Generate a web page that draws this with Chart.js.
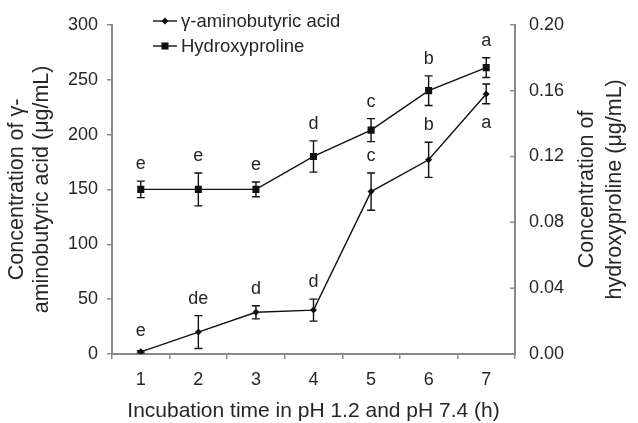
<!DOCTYPE html>
<html>
<head>
<meta charset="utf-8">
<script src="https://cdn.jsdelivr.net/npm/chart.js@4/dist/chart.umd.min.js"></script>
<style>
  html, body { margin: 0; padding: 0; background: #fff; }
  #wrap { width: 638px; height: 423px; position: relative; }
</style>
</head>
<body>
<div id="wrap"><canvas id="chart"></canvas></div>
<script>
// incubation hours
const categories = ['1', '2', '3', '4', '5', '6', '7'];

// γ-aminobutyric acid (left axis, μg/mL)
const gabaValues = [2, 20, 38, 40, 148, 177, 237];
const gabaErrors = [1, 15, 6, 10, 17, 16, 9];
const gabaLetters = ['e', 'de', 'd', 'd', 'c', 'b', 'a'];
const gabaLetterSide = ['up', 'up', 'up', 'up', 'up', 'up', 'down'];

// hydroxyproline (right axis, μg/mL)
const hypValues = [0.100, 0.100, 0.100, 0.120, 0.136, 0.160, 0.174];
const hypErrors = [0.005, 0.010, 0.0045, 0.0095, 0.007, 0.009, 0.006];
const hypLetters = ['e', 'e', 'e', 'd', 'c', 'b', 'a'];

const leftTicks = [0, 50, 100, 150, 200, 250, 300];
const rightTicks = [0, 0.04, 0.08, 0.12, 0.16, 0.20];

const FONT = 'Liberation Sans, Arial, sans-serif';
const AXIS_GRAY = '#8a8a8a';
const TEXT = '#262626';

// error bars + significance letters
const errorBarPlugin = {
    id: 'errorBars',
    afterDatasetsDraw(chart) {
        const ctx = chart.ctx;
        const x = chart.scales.x;
        const sets = [
            {scale: chart.scales.y, vals: gabaValues, errs: gabaErrors, letters: gabaLetters, side: gabaLetterSide},
            {scale: chart.scales.y1, vals: hypValues, errs: hypErrors, letters: hypLetters, side: null}
        ];
        ctx.save();
        ctx.strokeStyle = '#111';
        ctx.lineWidth = 1.4;
        ctx.fillStyle = TEXT;
        ctx.font = '18px ' + FONT;
        ctx.textAlign = 'center';
        ctx.textBaseline = 'middle';
        sets.forEach(s => {
            s.vals.forEach((v, i) => {
                const px = x.getPixelForValue(i);
                const top = s.scale.getPixelForValue(v + s.errs[i]);
                const bot = s.scale.getPixelForValue(v - s.errs[i]);
                if (bot - top > 2) {
                    ctx.beginPath();
                    ctx.moveTo(px, top); ctx.lineTo(px, bot);
                    ctx.moveTo(px - 4, top); ctx.lineTo(px + 4, top);
                    ctx.moveTo(px - 4, bot); ctx.lineTo(px + 4, bot);
                    ctx.stroke();
                }
                const down = s.side && s.side[i] === 'down';
                const ly = down ? bot + 19 : Math.min(top, s.scale.getPixelForValue(v) - 4) - 17;
                ctx.fillText(s.letters[i], px, ly);
            });
        });
        ctx.restore();
    }
};

// titles, inner ticks on right axis, legend
const decorPlugin = {
    id: 'decor',
    afterDraw(chart) {
        const ctx = chart.ctx;
        const area = chart.chartArea;
        const y1 = chart.scales.y1;
        const midY = (area.top + area.bottom) / 2;
        ctx.save();

        // right axis tick marks point inward
        ctx.strokeStyle = AXIS_GRAY;
        ctx.lineWidth = 1.5;
        rightTicks.forEach(t => {
            const py = y1.getPixelForValue(t);
            ctx.beginPath();
            ctx.moveTo(area.right - 5, py);
            ctx.lineTo(area.right, py);
            ctx.stroke();
        });

        ctx.fillStyle = TEXT;
        ctx.font = '21.5px ' + FONT;
        ctx.textAlign = 'center';
        ctx.textBaseline = 'middle';

        // left title
        ctx.save();
        ctx.translate(17, midY);
        ctx.rotate(-Math.PI / 2);
        ctx.fillText('Concentration of γ-', 0, 0);
        ctx.fillText('aminobutyric acid (μg/mL)', 0, 25);
        ctx.restore();

        // right title
        ctx.save();
        ctx.translate(587, midY);
        ctx.rotate(-Math.PI / 2);
        ctx.fillText('Concentration of', 0, 0);
        ctx.fillText('hydroxyproline (μg/mL)', 0, 28);
        ctx.restore();

        // x title
        ctx.font = '21px ' + FONT;
        ctx.textBaseline = 'alphabetic';
        ctx.fillText('Incubation time in pH 1.2 and pH 7.4 (h)', (area.left + area.right) / 2, 417);

        // legend
        const items = [
            {label: 'γ-aminobutyric acid', style: 'rectRot', r: 3.5, y: 21},
            {label: 'Hydroxyproline', style: 'rect', r: 5, y: 46}
        ];
        ctx.font = '18.5px ' + FONT;
        ctx.textAlign = 'left';
        ctx.textBaseline = 'middle';
        items.forEach(it => {
            ctx.strokeStyle = '#111';
            ctx.lineWidth = 1.4;
            ctx.beginPath();
            ctx.moveTo(153, it.y); ctx.lineTo(177, it.y);
            ctx.stroke();
            ctx.fillStyle = '#111';
            Chart.helpers.drawPoint(ctx, {pointStyle: it.style, radius: it.r, borderWidth: 0}, 165, it.y);
            ctx.fillStyle = TEXT;
            ctx.fillText(it.label, 181, it.y + 1);
        });
        ctx.restore();
    }
};

new Chart(document.getElementById('chart').getContext('2d'), {
    type: 'line',
    data: {
        labels: categories,
        datasets: [
            {
                label: 'γ-aminobutyric acid',
                data: gabaValues,
                yAxisID: 'y',
                borderColor: '#111',
                backgroundColor: '#111',
                borderWidth: 1.4,
                pointStyle: 'rectRot',
                pointRadius: 3.5,
                pointBorderWidth: 0,
                tension: 0
            },
            {
                label: 'Hydroxyproline',
                data: hypValues,
                yAxisID: 'y1',
                borderColor: '#111',
                backgroundColor: '#111',
                borderWidth: 1.4,
                pointStyle: 'rect',
                pointRadius: 5,
                pointBorderWidth: 0,
                tension: 0
            }
        ]
    },
    options: {
        responsive: true,
        maintainAspectRatio: false,
        animation: false,
        layout: { padding: { top: 22, left: 0, right: 0, bottom: 0 } },
        plugins: {
            legend: { display: false },
            tooltip: { enabled: false }
        },
        scales: {
            x: {
                type: 'category',
                offset: true,
                grid: { display: true, drawOnChartArea: false, offset: true, tickLength: 5, color: AXIS_GRAY, lineWidth: 1.5 },
                border: { color: AXIS_GRAY, width: 2 },
                ticks: { color: TEXT, font: { family: FONT, size: 18 }, padding: 10 },
                afterFit: s => { s.height = 69; }
            },
            y: {
                position: 'left',
                min: 0,
                max: 300,
                afterBuildTicks: s => { s.ticks = leftTicks.map(v => ({value: v})); },
                grid: { drawOnChartArea: false, tickLength: 5, color: AXIS_GRAY, lineWidth: 1.5 },
                border: { color: AXIS_GRAY, width: 2 },
                ticks: { color: TEXT, font: { family: FONT, size: 18 }, padding: 9 },
                afterFit: s => { s.width = 112; }
            },
            y1: {
                position: 'right',
                min: 0,
                max: 0.2,
                afterBuildTicks: s => { s.ticks = rightTicks.map(v => ({value: v})); },
                grid: { drawOnChartArea: false, drawTicks: false },
                border: { color: AXIS_GRAY, width: 2 },
                ticks: { color: TEXT, font: { family: FONT, size: 18 }, padding: 14,
                         callback: v => v.toFixed(2) },
                afterFit: s => { s.width = 123; }
            }
        }
    },
    plugins: [errorBarPlugin, decorPlugin]
});
</script>
</body>
</html>
